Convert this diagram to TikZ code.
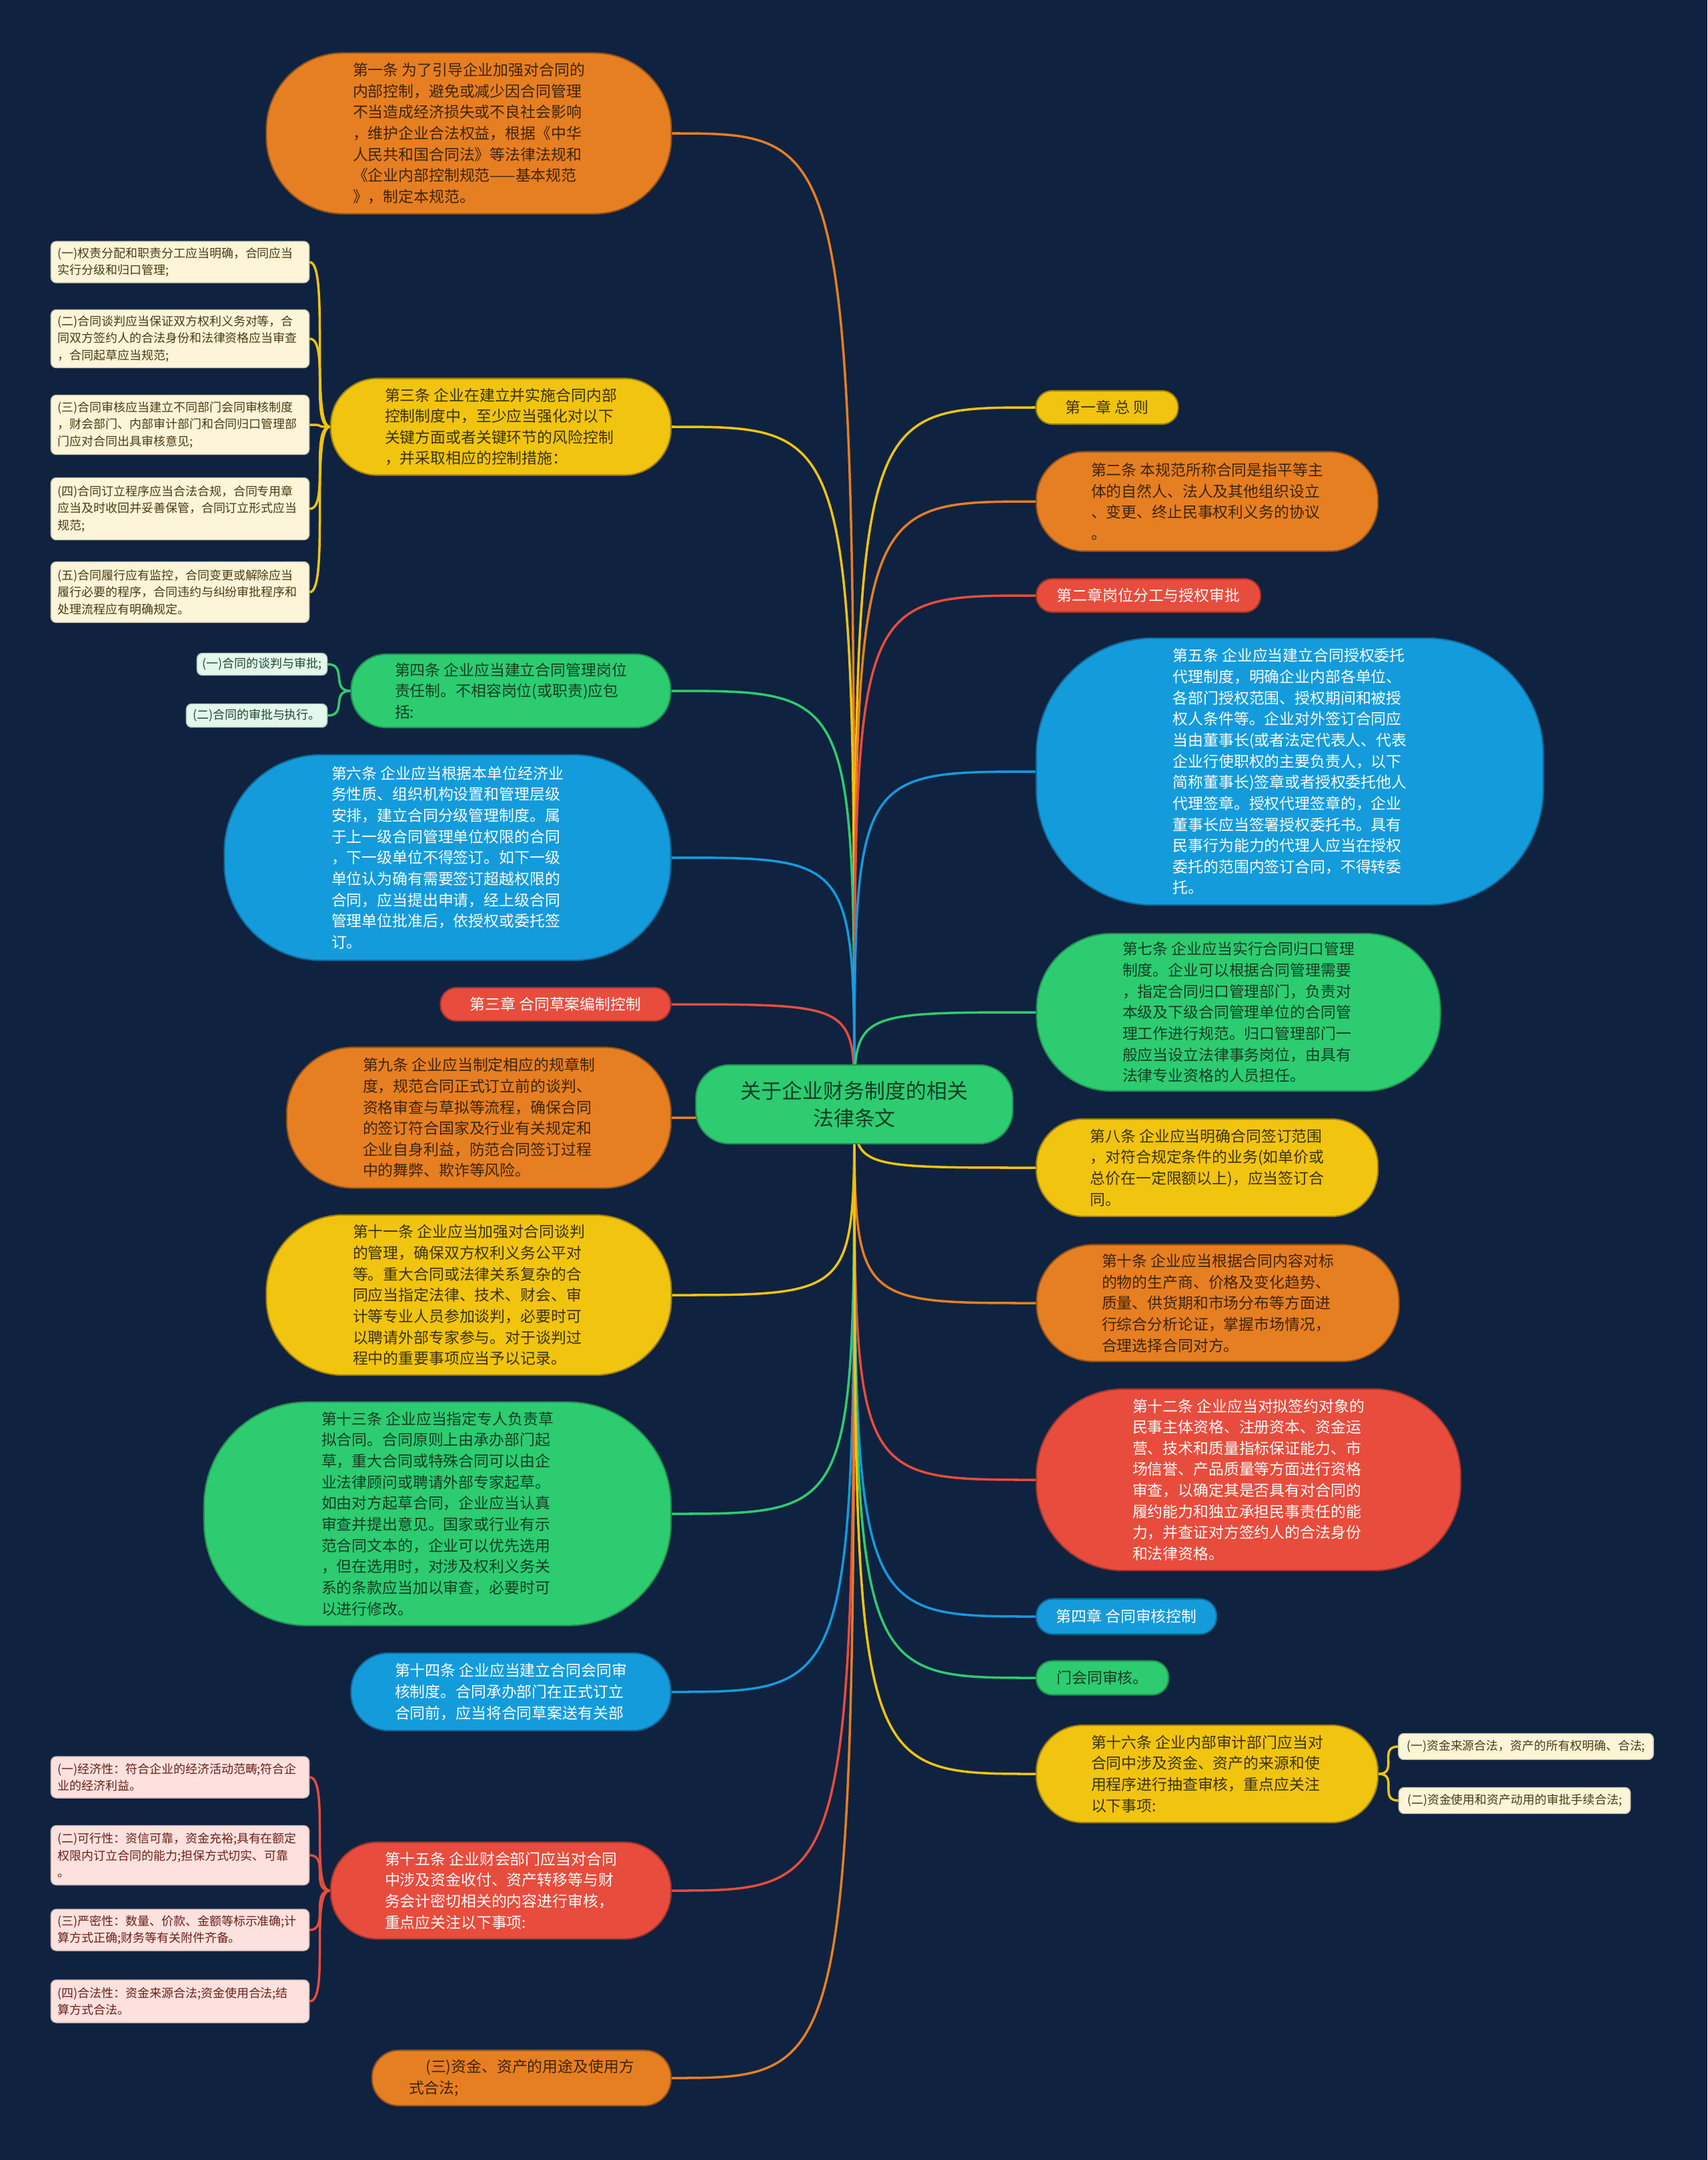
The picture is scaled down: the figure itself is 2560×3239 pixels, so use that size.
\documentclass[tikz,border=0pt]{standalone}
\usepackage{fontspec}
\setmainfont{Noto Sans CJK SC}
\usetikzlibrary{backgrounds}

\definecolor{bgnavy}{HTML}{0F223F}
\definecolor{cOrange}{HTML}{E67E22}
\definecolor{cYellow}{HTML}{F1C40F}
\definecolor{cRed}{HTML}{E74C3C}
\definecolor{cGreen}{HTML}{2ECC71}
\definecolor{cBlue}{HTML}{139BDB}
\definecolor{tOrange}{HTML}{3E2409}
\definecolor{tYellow}{HTML}{3B3207}
\definecolor{tGreen}{HTML}{123D24}
\definecolor{lCream}{HTML}{FDF5D9}
\definecolor{lMint}{HTML}{E3F7EB}
\definecolor{lPink}{HTML}{FCE1DE}
\definecolor{tCream}{HTML}{4A3B12}
\definecolor{tMint}{HTML}{1D4A30}
\definecolor{tPink}{HTML}{6E1E15}

\begin{document}
\begin{tikzpicture}[
    x=0.01cm, y=0.01cm,
    art/.style={align=left,inner sep=3pt,line width=0.6pt,
        font=\fontsize{6.5}{9}\selectfont},
    orangeart/.style={art,fill=cOrange,draw=cOrange!65!black,text=tOrange},
    yellowart/.style={art,fill=cYellow,draw=cYellow!65!black,text=tYellow},
    greenart/.style={art,fill=cGreen,draw=cGreen!70!black,text=tGreen},
    redart/.style={art,fill=cRed,draw=cRed!70!black,text=white},
    blueart/.style={art,fill=cBlue,draw=cBlue!70!black,text=white},
    leaf/.style={align=left,inner sep=2pt,rounded corners=0.08cm,
        line width=0.4pt,minimum width=3.87cm,
        font=\fontsize{5.1}{7.2}\selectfont},
    colleaf/.style={text width=3.66cm},
    creamleaf/.style={leaf,fill=lCream,draw=lCream!80!black,text=tCream},
    mintleaf/.style={leaf,fill=lMint,draw=lMint!80!black,text=tMint},
    pinkleaf/.style={leaf,fill=lPink,draw=lPink!80!black,text=tPink},
    branch/.style={draw=#1,line width=1pt}
]
\path[use as bounding box] (0,0) rectangle (2560,-3239);

\node[greenart,align=center,minimum width=4.75cm,minimum height=1.18cm,
    rounded corners=0.5cm,font=\fontsize{8.8}{11.7}\selectfont] (root) at (1281,-1656)
    {关于企业财务制度的相关\\法律条文};

% left-hand side
\node[orangeart,minimum width=6.07cm,minimum height=2.41cm,rounded corners=1.15cm] (a1) at (703,-200)
    {第一条 为了引导企业加强对合同的\\内部控制，避免或减少因合同管理\\不当造成经济损失或不良社会影响\\，维护企业合法权益，根据《中华\\人民共和国合同法》等法律法规和\\《企业内部控制规范——基本规范\\》，制定本规范。};
\node[yellowart,minimum width=5.10cm,minimum height=1.45cm,rounded corners=0.70cm] (a3) at (751,-640)
    {第三条 企业在建立并实施合同内部\\控制制度中，至少应当强化对以下\\关键方面或者关键环节的风险控制\\，并采取相应的控制措施：};
\node[creamleaf,colleaf,minimum height=0.62cm] (a3l1) at (270,-393)
    {(一)权责分配和职责分工应当明确，合同应当\\实行分级和归口管理;};
\node[creamleaf,colleaf,minimum height=0.87cm] (a3l2) at (270,-508)
    {(二)合同谈判应当保证双方权利义务对等，合\\同双方签约人的合法身份和法律资格应当审查\\，合同起草应当规范;};
\node[creamleaf,colleaf,minimum height=0.89cm] (a3l3) at (270,-637)
    {(三)合同审核应当建立不同部门会同审核制度\\，财会部门、内部审计部门和合同归口管理部\\门应对合同出具审核意见;};
\node[creamleaf,colleaf,minimum height=0.93cm] (a3l4) at (270,-763)
    {(四)合同订立程序应当合法合规，合同专用章\\应当及时收回并妥善保管，合同订立形式应当\\规范;};
\node[creamleaf,colleaf,minimum height=0.91cm] (a3l5) at (270,-888)
    {(五)合同履行应有监控，合同变更或解除应当\\履行必要的程序，合同违约与纠纷审批程序和\\处理流程应有明确规定。};
\node[greenart,minimum width=4.79cm,minimum height=1.10cm,rounded corners=0.53cm] (a4) at (766,-1036)
    {第四条 企业应当建立合同管理岗位\\责任制。不相容岗位(或职责)应包\\括:};
\node[mintleaf,minimum width=1.95cm,minimum height=0.33cm] (a4l1) at (393,-996)
    {(一)合同的谈判与审批;};
\node[mintleaf,minimum width=2.11cm,minimum height=0.35cm] (a4l2) at (385,-1073)
    {(二)合同的审批与执行。};
\node[blueart,minimum width=6.69cm,minimum height=3.08cm,rounded corners=1.45cm] (a6) at (671,-1286)
    {第六条 企业应当根据本单位经济业\\务性质、组织机构设置和管理层级\\安排，建立合同分级管理制度。属\\于上一级合同管理单位权限的合同\\，下一级单位不得签订。如下一级\\单位认为确有需要签订超越权限的\\合同，应当提出申请，经上级合同\\管理单位批准后，依授权或委托签\\订。};
\node[redart,minimum width=3.45cm,minimum height=0.50cm,rounded corners=0.24cm] (ch3) at (833,-1506)
    {第三章 合同草案编制控制};
\node[orangeart,minimum width=5.76cm,minimum height=2.11cm,rounded corners=1.0cm] (a9) at (718,-1676)
    {第九条 企业应当制定相应的规章制\\度，规范合同正式订立前的谈判、\\资格审查与草拟等流程，确保合同\\的签订符合国家及行业有关规定和\\企业自身利益，防范合同签订过程\\中的舞弊、欺诈等风险。};
\node[yellowart,minimum width=6.07cm,minimum height=2.40cm,rounded corners=1.15cm] (a11) at (703,-1942)
    {第十一条 企业应当加强对合同谈判\\的管理，确保双方权利义务公平对\\等。重大合同或法律关系复杂的合\\同应当指定法律、技术、财会、审\\计等专业人员参加谈判，必要时可\\以聘请外部专家参与。对于谈判过\\程中的重要事项应当予以记录。};
\node[greenart,minimum width=7.00cm,minimum height=3.35cm,rounded corners=1.55cm] (a13) at (656,-2270)
    {第十三条 企业应当指定专人负责草\\拟合同。合同原则上由承办部门起\\草，重大合同或特殊合同可以由企\\业法律顾问或聘请外部专家起草。\\如由对方起草合同，企业应当认真\\审查并提出意见。国家或行业有示\\范合同文本的，企业可以优先选用\\，但在选用时，对涉及权利义务关\\系的条款应当加以审查，必要时可\\以进行修改。};
\node[blueart,minimum width=4.79cm,minimum height=1.16cm,rounded corners=0.56cm] (a14) at (766,-2537)
    {第十四条 企业应当建立合同会同审\\核制度。合同承办部门在正式订立\\合同前，应当将合同草案送有关部};
\node[redart,minimum width=5.10cm,minimum height=1.45cm,rounded corners=0.70cm] (a15) at (751,-2835)
    {第十五条 企业财会部门应当对合同\\中涉及资金收付、资产转移等与财\\务会计密切相关的内容进行审核，\\重点应关注以下事项:};
\node[pinkleaf,colleaf,minimum height=0.62cm] (a15l1) at (270,-2665)
    {(一)经济性：符合企业的经济活动范畴;符合企\\业的经济利益。};
\node[pinkleaf,colleaf,minimum height=0.89cm] (a15l2) at (270,-2782)
    {(二)可行性：资信可靠，资金充裕;具有在额定\\权限内订立合同的能力;担保方式切实、可靠\\。};
\node[pinkleaf,colleaf,minimum height=0.62cm] (a15l3) at (270,-2894)
    {(三)严密性：数量、价款、金额等标示准确;计\\算方式正确;财务等有关附件齐备。};
\node[pinkleaf,colleaf,minimum height=0.64cm] (a15l4) at (270,-3001)
    {(四)合法性：资金来源合法;资金使用合法;结\\算方式合法。};
\node[orangeart,minimum width=4.48cm,minimum height=0.83cm,rounded corners=0.40cm] (a16c) at (782,-3116)
    {\hspace*{1.1em}(三)资金、资产的用途及使用方\\式合法;};

% right-hand side
\node[yellowart,minimum width=2.13cm,minimum height=0.50cm,rounded corners=0.24cm] (ch1) at (1660,-611)
    {第一章 总 则};
\node[orangeart,minimum width=5.12cm,minimum height=1.49cm,rounded corners=0.72cm] (a2) at (1810,-752)
    {第二条 本规范所称合同是指平等主\\体的自然人、法人及其他组织设立\\、变更、终止民事权利义务的协议\\。};
\node[redart,minimum width=3.36cm,minimum height=0.50cm,rounded corners=0.24cm] (ch2) at (1722,-893)
    {第二章岗位分工与授权审批};
\node[blueart,minimum width=7.60cm,minimum height=4.00cm,rounded corners=1.75cm] (a5) at (1934,-1157)
    {第五条 企业应当建立合同授权委托\\代理制度，明确企业内部各单位、\\各部门授权范围、授权期间和被授\\权人条件等。企业对外签订合同应\\当由董事长(或者法定代表人、代表\\企业行使职权的主要负责人，以下\\简称董事长)签章或者授权委托他人\\代理签章。授权代理签章的，企业\\董事长应当签署授权委托书。具有\\民事行为能力的代理人应当在授权\\委托的范围内签订合同，不得转委\\托。};
\node[greenart,minimum width=6.05cm,minimum height=2.36cm,rounded corners=1.12cm] (a7) at (1857,-1518)
    {第七条 企业应当实行合同归口管理\\制度。企业可以根据合同管理需要\\，指定合同归口管理部门，负责对\\本级及下级合同管理单位的合同管\\理工作进行规范。归口管理部门一\\般应当设立法律事务岗位，由具有\\法律专业资格的人员担任。};
\node[yellowart,minimum width=5.12cm,minimum height=1.46cm,rounded corners=0.70cm] (a8) at (1810,-1751)
    {第八条 企业应当明确合同签订范围\\，对符合规定条件的业务(如单价或\\总价在一定限额以上)，应当签订合\\同。};
\node[orangeart,minimum width=5.43cm,minimum height=1.75cm,rounded corners=0.85cm] (a10) at (1826,-1954)
    {第十条 企业应当根据合同内容对标\\的物的生产商、价格及变化趋势、\\质量、供货期和市场分布等方面进\\行综合分析论证，掌握市场情况，\\合理选择合同对方。};
\node[redart,minimum width=6.36cm,minimum height=2.72cm,rounded corners=1.30cm] (a12) at (1872,-2219)
    {第十二条 企业应当对拟签约对象的\\民事主体资格、注册资本、资金运\\营、技术和质量指标保证能力、市\\场信誉、产品质量等方面进行资格\\审查，以确定其是否具有对合同的\\履约能力和独立承担民事责任的能\\力，并查证对方签约人的合法身份\\和法律资格。};
\node[blueart,minimum width=2.70cm,minimum height=0.53cm,rounded corners=0.25cm] (ch4) at (1689,-2424)
    {第四章 合同审核控制};
\node[greenart,minimum width=1.98cm,minimum height=0.51cm,rounded corners=0.24cm] (hs) at (1653,-2516)
    {门会同审核。};
\node[yellowart,minimum width=5.12cm,minimum height=1.46cm,rounded corners=0.70cm] (a16) at (1810,-2660)
    {第十六条 企业内部审计部门应当对\\合同中涉及资金、资产的来源和使\\用程序进行抽查审核，重点应关注\\以下事项:};
\node[creamleaf,minimum width=3.82cm,minimum height=0.39cm] (a16l1) at (2288,-2619)
    {(一)资金来源合法，资产的所有权明确、合法;};
\node[creamleaf,minimum width=3.47cm,minimum height=0.39cm] (a16l2) at (2271,-2700)
    {(二)资金使用和资产动用的审批手续合法;};

\begin{scope}[on background layer]
\fill[bgnavy] (0,0) rectangle (2560,-3239);
% every branch leaves the root vertically and meets its node sideways
\foreach \n/\c in {a1/cOrange,a3/cYellow,a4/cGreen,a6/cBlue,ch3/cRed,a9/cOrange,
    a11/cYellow,a13/cGreen,a14/cBlue,a15/cRed,a16c/cOrange}
  \draw[branch=\c] (root.center) .. controls (root.center |- \n.east) .. (\n.east);
\foreach \n/\c in {ch1/cYellow,a2/cOrange,ch2/cRed,a5/cBlue,a7/cGreen,a8/cYellow,
    a10/cOrange,a12/cRed,ch4/cBlue,hs/cGreen,a16/cYellow}
  \draw[branch=\c] (root.center) .. controls (root.center |- \n.west) .. (\n.west);
% brackets out to the listed items
\foreach \l in {a3l1,a3l2,a3l3,a3l4,a3l5}
  \draw[branch=cYellow] (a3.west) .. controls +(-30,0) and +(30,0) .. (\l.east);
\foreach \l in {a4l1,a4l2}
  \draw[branch=cGreen] (a4.west) .. controls +(-30,0) and +(30,0) .. (\l.east);
\foreach \l in {a15l1,a15l2,a15l3,a15l4}
  \draw[branch=cRed] (a15.west) .. controls +(-30,0) and +(30,0) .. (\l.east);
\foreach \l in {a16l1,a16l2}
  \draw[branch=cYellow] (a16.east) .. controls +(30,0) and +(-30,0) .. (\l.west);
\end{scope}
\end{tikzpicture}
\end{document}
